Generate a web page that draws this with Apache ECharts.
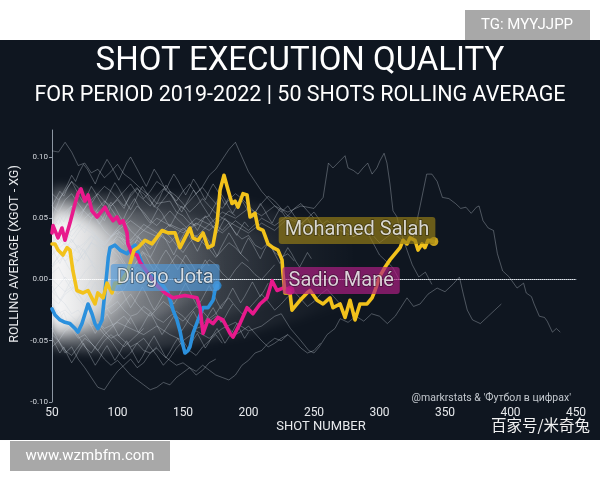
<!DOCTYPE html>
<html><head><meta charset="utf-8">
<script src="https://cdn.jsdelivr.net/npm/echarts@6/dist/echarts.min.js"></script>
<style>html,body{margin:0;padding:0;background:#fff}#c{width:600px;height:480px}</style>
</head><body><div id="c"></div>
<script>
// ---------------- data ----------------
const xTicks = [50, 100, 150, 200, 250, 300, 350, 400, 450];
const yTicks = [-0.10, -0.05, 0.00, 0.05, 0.10];

// highlighted players: [shot number, 50-shot rolling average of xGOT - xG]
const salah = [[50,.029],[52.3,.029],[54.6,.024],[58.4,.020],[61.5,.026],[63.7,.024],[66,.007],[69,-.009],[73.7,-.011],[77.5,-.009],[82.8,-.020],[85,-.011],[89,-.015],[92,-.003],[95.8,-.011],[98,-.003],[101.9,-.003],[108,.007],[112.6,.024],[115.7,.026],[121,.032],[126.3,.029],[134,.040],[138.6,.038],[143.9,.038],[147.7,.026],[151.5,.034],[155.3,.042],[157.6,.034],[161.5,.032],[165.3,.038],[169.1,.026],[172.9,.028],[176,.046],[178.3,.073],[181.3,.085],[184.4,.073],[187.4,.062],[189.7,.064],[192,.059],[195.8,.070],[198.9,.069],[201.2,.051],[205,.054],[207.3,.042],[211.1,.040],[214.9,.029],[218.7,.026],[222.5,.024],[225.6,.016],[226.3,.005],[227.9,-.011],[231.7,-.011],[233.2,-.025],[239.3,-.017],[244.7,-.011],[247,-.009],[252.3,-.017],[256.9,-.020],[262.2,-.015],[264.5,-.023],[269.9,-.020],[273.7,-.031],[277.5,-.017],[281.3,-.033],[285.1,-.020],[290.5,-.020],[294.3,-.015],[296.6,-.009],[300.4,.003],[304.2,.010],[308,.016],[315.7,.026],[318,.032],[321,.029],[323.3,.034],[327.1,.032],[329.4,.024],[332.5,.029],[334.7,.026],[337,.032],[341.5,.031]];
const mane = [[50,.038],[50.8,.044],[54.6,.034],[57.6,.042],[59.9,.032],[63.7,.046],[67.6,.062],[69.8,.070],[72.1,.074],[75.2,.064],[77.5,.069],[80.5,.056],[84.4,.051],[88.2,.056],[90.5,.059],[92.8,.054],[96.6,.048],[99.6,.051],[101.9,.046],[104.2,.048],[107.3,.038],[108,.029],[111.1,.021],[114.9,.020],[117.2,.014],[124.8,.003],[130.2,-.005],[136.3,-.011],[142.4,-.015],[151.5,-.013],[160.7,-.015],[163,-.023],[165.3,-.044],[169.1,-.033],[172.9,-.036],[176.7,-.031],[180.5,-.033],[185.9,-.044],[188.2,-.047],[193.5,-.036],[198.9,-.023],[203.4,-.028],[208.8,-.020],[214.1,-.015],[218,-.001],[221.8,-.009],[226.3,-.007],[231.7,-.009]];
const jota = [[50,-.024],[52.3,-.029],[56.1,-.033],[59.9,-.035],[63.7,-.036],[67.6,-.040],[69.8,-.043],[72.9,-.036],[75.2,-.028],[77.5,-.020],[80.5,-.028],[82.8,-.036],[85.1,-.040],[88.2,-.033],[90.5,-.009],[92,.007],[93,.018],[94.3,.026],[98.1,.028],[101.9,.024],[107.3,.021],[111.1,.026],[113.4,.028],[114.9,.024],[121,.007],[128.6,.003],[134.7,-.005],[138.6,-.011],[142.4,-.025],[145.4,-.033],[147.7,-.042],[149.2,-.050],[151.5,-.060],[153.8,-.058],[155.3,-.055],[157.6,-.044],[161.5,-.033],[165.3,-.023],[169.1,-.023],[172.9,-.017],[174.4,-.009],[176,-.005]];

// other players, values every 5 shots starting at shot 50
const greyStart = 50, greyStep = 5;
const greyA = [.105,.104,.112,.104,.093,.095,.087,.090,.083,.088,.094,.086,.082,.077,.072,.068,.062,.063,.064,.055,.052,.046,.044,.050,.052,.045,.040,.046,.038,.033,.036,.028,.025,.030,.022,.018,.021,.015];
const greyB = [.030,.035,.028,.040,.045,.038,.050,.055,.048,.060,.065,.058,.070,.075,.066,.072,.080,.076,.070,.064,.072,.078,.070,.076,.085,.090,.098,.106,.112,.100,.088,.080,.072,.066,.060,.055,.060,.052,.045,.050,.040,.035];
const grey01 = [.012,.018,.025,.020,.015,.022,.030,.026,.018,.012,.016];
const grey02 = [-.010,-.005,.002,-.004,-.012,-.008,.000,.006,.002,-.006];
const grey03 = [.045,.050,.040,.035,.042,.050,.055,.048,.040,.035,.038,.030,.025,.032,.028];
const grey04 = [-.030,-.025,-.035,-.040,-.032,-.026,-.030,-.038,-.045,-.040,-.034,-.030,-.036];
const grey05 = [.005,.010,.000,-.008,-.002,.006,.012,.008,.000,-.006,-.012,-.008,.002,.010,.006,.000,-.005,.003,.008];
const grey06 = [.060,.055,.065,.070,.062,.055,.050,.058,.064,.058,.050,.045,.052,.060,.055,.048,.044,.050,.056,.050,.045,.040,.046];
const grey07 = [-.045,-.050,-.042,-.038,-.046,-.055,-.060,-.052,-.045,-.050,-.058,-.065,-.060,-.052,-.048,-.055,-.062,-.070,-.064,-.056,-.050,-.058,-.062,-.055,-.050,-.045,-.052];
const grey08 = [.020,.028,.035,.030,.038,.045,.040,.034,.028,.035,.042,.048,.040,.035,.030,.025,.032,.040,.035,.028,.022,.030,.036,.030,.025,.018,.024,.030,.026,.020,.015];
const grey09 = [-.040,-.050,-.060,-.055,-.065,-.072,-.080,-.088,-.090,-.082,-.075,-.070,-.065,-.072,-.068,-.060,-.055];
const grey10 = [-.020,-.028,-.035,-.040,-.048,-.045,-.052,-.058,-.065,-.070,-.066,-.072,-.078,-.082,-.086,-.090,-.088,-.084,-.086,-.080,-.076,-.072,-.078,-.074,-.068,-.065];
const grey11 = [-.010,-.015,-.020,-.028,-.025,-.032,-.038,-.035,-.042,-.048,-.045,-.050,-.055,-.052,-.058,-.060,-.056,-.062,-.066,-.070,-.068,-.072,-.075,-.070,-.074,-.078,-.080,-.082,-.078,-.070,-.066,-.060,-.058,-.052,-.048,-.050,-.045];
const grey12 = [.000,-.005,-.010,-.006,-.012,-.018,-.015,-.020,-.025,-.022,-.018,-.025,-.030,-.028,-.022,-.026,-.032,-.035,-.030,-.026,-.030,-.036,-.040,-.038,-.034,-.030,-.035,-.040,-.045,-.042,-.038,-.044,-.050,-.055,-.052,-.048,-.045,-.050,-.056,-.060,-.058,-.052];
const grey13 = [.050,.045,.055,.060,.052,.058,.065,.070,.064,.060,.066,.072,.078,.070,.065,.060,.068,.074,.070,.062,.058,.064,.070,.075,.068,.062,.058,.065,.070,.066,.060,.055,.062,.068,.064,.058,.052,.058,.062,.056,.050];
const grey14 = [.030,.022,.015,.020,.028,.022,.015,.010,.018,.025,.020,.012,.008,.015,.022,.018,.010,.005,.012,.020,.015,.008,.002,.010,.016,.012,.005,.000,.008,.014,.010,.004,.000,.006,.012];
const grey15 = [-.015,-.020,-.012,-.008,-.016,-.022,-.018,-.012,-.020,-.028,-.024,-.018,-.012,-.020,-.026,-.030,-.024,-.018,-.022,-.030,-.034,-.028,-.022,-.026,-.032,-.028,-.020,-.015,-.022,-.028,-.024,-.018,-.012,-.018,-.025,-.020,-.014,-.010,-.016,-.022,-.018,-.012,-.008,-.014,-.020];
const grey16 = [.070,.065,.072,.080,.075,.068,.062,.070,.076,.072,.066,.060,.068,.074,.070,.064,.058,.065,.072,.068,.062,.055,.060,.066,.060,.054,.050,.056,.052];
const grey17 = [-.055,-.050,-.058,-.062,-.055,-.048,-.052,-.058,-.050,-.045,-.050,-.055,-.050,-.045,-.040];
const grey18 = [.035,.030,.038,.032,.026,.030,.036,.030,.024,.028,.033,.028];

// other players read at a finer step: every 3 shots from shot 50
const fineStart = 50, fineStep = 3;
const grey19 = [.040,.046,.052,.047,.055,.060,.054,.049,.056,.062,.058,.051,.045,.050,.057,.063,.059,.053,.048,.055,.061,.066,.060,.055,.050,.046,.052,.058,.054,.048,.043,.049,.055,.060,.056,.050,.045,.040,.046,.052,.048,.043,.038,.044,.050,.046,.041,.036,.042,.047,.043];
const grey20 = [-.020,-.026,-.032,-.027,-.035,-.041,-.036,-.030,-.025,-.031,-.038,-.044,-.039,-.033,-.028,-.034,-.040,-.046,-.042,-.036,-.031,-.037,-.043,-.038,-.032,-.027,-.033,-.039,-.045,-.040,-.035,-.030,-.036,-.042,-.037,-.031,-.026,-.032,-.038,-.034,-.028,-.023,-.029,-.035,-.031,-.025,-.020];
const grey21 = [.010,.016,.022,.017,.011,.006,.012,.019,.025,.020,.014,.008,.003,.009,.015,.021,.027,.022,.016,.011,.005,.011,.017,.023,.018,.012,.007,.013,.019,.024,.019,.013,.008,.014,.020,.015,.010,.004,.010,.016,.011];
const grey22 = [.060,.066,.072,.068,.075,.080,.074,.068,.063,.069,.076,.071,.065,.060,.066,.073,.079,.074,.068,.062,.057,.063,.070,.076,.071,.065,.059,.064,.071,.077,.072,.066,.060,.055,.061,.067,.073,.068,.062,.057,.052,.058,.064,.070,.065,.059,.054,.060,.066,.061,.055,.050,.056,.062,.057,.051,.046,.052,.058,.053,.048];
const grey23 = [-.048,-.054,-.060,-.055,-.062,-.068,-.063,-.057,-.052,-.058,-.064,-.070,-.065,-.059,-.054,-.060,-.066,-.061,-.055,-.050,-.056,-.062,-.068,-.063,-.057,-.051,-.046,-.052,-.058,-.064,-.059,-.053,-.048,-.054,-.060,-.055,-.049,-.044,-.050,-.056,-.051,-.045,-.040,-.046,-.052,-.047,-.042,-.036,-.042,-.048,-.043];
const grey24 = [.025,.019,.013,.020,.027,.033,.028,.022,.016,.023,.030,.036,.031,.025,.019,.026,.033,.039,.034,.028,.022,.029,.035,.030,.024,.018,.024,.031,.037,.032,.026,.020,.027,.034,.040,.035,.029,.023,.030,.036,.031,.025,.019,.026,.032,.038,.033,.027,.021,.028,.034,.029,.023,.017,.024,.030,.025,.019,.013,.020,.026,.021,.015,.010,.016,.022,.017];
const grey25 = [-.005,-.011,-.017,-.012,-.006,.000,-.006,-.013,-.019,-.014,-.008,-.002,-.008,-.015,-.021,-.016,-.010,-.004,-.010,-.017,-.023,-.018,-.012,-.006,-.012,-.019,-.025,-.020,-.014,-.008,-.014,-.020,-.015,-.009,-.003,-.009,-.016,-.022,-.017,-.011,-.005,-.011,-.018,-.024,-.019,-.013,-.007,-.013,-.019,-.014,-.008,-.002,-.008,-.014,-.009,-.003];
const grey26 = [.050,.058,.066,.072,.078,.085,.080,.088,.094,.090,.084,.078,.086,.092,.098,.093,.087,.081,.088,.095,.100,.094,.088,.082,.076,.083,.090,.085,.079,.073,.080,.086,.081,.075,.069,.075,.082,.077,.071,.065,.072,.078,.073,.067,.061,.067];

// long careers, as [shot, value]
const greyC = [[50,.010],[60,.020],[70,.015],[80,.030],[90,.025],[100,.035],[110,.030],[120,.040],[130,.035],[140,.045],[150,.040],[160,.050],[170,.045],[180,.055],[190,.050],[200,.058],[210,.052],[220,.060],[230,.055],[240,.060],[250,.058],[257,.067],[261,.095],[264.5,.091],[270,.097],[273.7,.101],[276,.091],[280,.089],[283.6,.086],[287.4,.091],[291,.095],[294.3,.086],[298,.091],[300.4,.097],[303.5,.103],[305.7,.095],[308,.078],[310.3,.056],[313.4,.051],[315.7,.040],[321,.024],[325,.012],[330,.002],[335,.006],[340,-.004]];
const greyD = [[50,.020],[60,.030],[70,.022],[80,.035],[90,.028],[100,.040],[110,.032],[120,.045],[130,.038],[140,.030],[150,.042],[160,.035],[170,.045],[180,.038],[190,.048],[200,.040],[210,.050],[220,.044],[230,.052],[240,.046],[250,.040],[260,.048],[270,.040],[280,.035],[290,.042],[300,.030],[310,.038],[320,.030],[326,.035],[331,.060],[336,.086],[340,.086],[344,.080],[348,.067],[353,.066],[358,.062],[362,.058],[366,.059],[370,.054],[374,.059],[376,.060],[379,.048],[383,.042],[387,.040],[390,.021],[394,.007],[399,.002],[405,-.007],[410,-.003],[412,-.011],[416,-.014],[418,-.020],[422,-.030],[426,-.031],[428,-.034],[432,-.043],[435,-.040],[438,-.043]];
const greyE = [[50,-.030],[60,-.025],[70,-.035],[80,-.030],[90,-.040],[100,-.035],[110,-.040],[120,-.045],[130,-.038],[140,-.045],[150,-.050],[160,-.042],[170,-.048],[180,-.040],[190,-.035],[200,-.042],[210,-.038],[220,-.030],[225,-.028],[232,-.040],[240,-.050],[246,-.058],[250,-.060],[254,-.055],[260,-.045],[266,-.040],[270,-.032],[276,-.035],[282,-.030],[288,-.034],[294,-.028],[300,-.030],[306,-.036],[312,-.030],[318,-.020],[321,-.015],[326,-.022],[331,-.020],[337,-.012],[344,-.007],[350,-.010],[356,-.004],[361,.002],[364,-.012],[367,-.025],[371,-.033],[377,-.036],[383,-.030],[388,-.025],[393,-.020]];
const greyF = [[50,.040],[60,.035],[70,.045],[80,.038],[90,.030],[100,.040],[110,.048],[120,.040],[130,.050],[140,.044],[150,.038],[160,.046],[170,.040],[180,.050],[190,.044],[200,.038],[210,.046],[220,.040],[230,.050],[240,.045],[250,.055],[260,.040],[270,.048],[280,.035],[290,.040],[300,.020],[310,.010],[315,.000]];

// density of the crowd of other players: shots, upper edge, lower edge
const band1Shots = [50,60,75,90,105,120,140,160,180,200,220,240,260,280];
const band1Hi = [.074,.076,.072,.070,.070,.068,.068,.068,.066,.062,.056,.048,.040,.030];
const band1Lo = [-.056,-.058,-.060,-.060,-.058,-.058,-.055,-.052,-.048,-.044,-.038,-.032,-.025,-.018];
const band2Shots = [50,60,75,90,105,120,140,160,180,200,230];
const band2Hi = [.066,.068,.064,.060,.058,.056,.054,.050,.046,.040,.028];
const band2Lo = [-.050,-.052,-.052,-.050,-.048,-.046,-.042,-.036,-.030,-.024,-.010];
const band3Shots = [50,60,75,90,105,120,140,160,180];
const band3Hi = [.060,.062,.058,.054,.048,.044,.038,.030,.020];
const band3Lo = [-.044,-.046,-.044,-.042,-.038,-.034,-.026,-.016,-.006];
const band4Shots = [50,60,70,80,90,100,110,125];
const band4Hi = [.054,.056,.054,.050,.045,.040,.032,.020];
const band4Lo = [-.040,-.042,-.040,-.036,-.032,-.026,-.018,-.004];
const band5Shots = [50,60,70,80,90,100];
const band5Hi = [.046,.050,.048,.044,.038,.028];
const band5Lo = [-.033,-.035,-.033,-.029,-.023,-.013];

// ---------------- chart ----------------
const C_SALAH = '#f2c21b', C_MANE = '#e8198c', C_JOTA = '#2b90dd';
const FONT = 'Roboto';
const chart = echarts.init(document.getElementById('c'), null, {renderer: 'canvas'});

const stepLines = [greyA, greyB, grey01, grey02, grey03, grey04, grey05, grey06, grey07, grey08, grey09, grey10, grey11, grey12, grey13, grey14, grey15, grey16, grey17, grey18];
const fineLines = [grey19, grey20, grey21, grey22, grey23, grey24, grey25, grey26];
const pairLines = [greyC, greyD, greyE, greyF];
const greySeries = [];
stepLines.forEach(arr => greySeries.push(arr.map((v, i) => [greyStart + i * greyStep, v])));
fineLines.forEach(arr => greySeries.push(arr.map((v, i) => [fineStart + i * fineStep, v])));
pairLines.forEach(arr => greySeries.push(arr));

const bands = [
  {shots: band1Shots, hi: band1Hi, lo: band1Lo, a0: 0.22, a1: 0.0},
  {shots: band2Shots, hi: band2Hi, lo: band2Lo, a0: 0.28, a1: 0.0},
  {shots: band3Shots, hi: band3Hi, lo: band3Lo, a0: 0.42, a1: 0.0},
  {shots: band4Shots, hi: band4Hi, lo: band4Lo, a0: 0.60, a1: 0.05},
  {shots: band5Shots, hi: band5Hi, lo: band5Lo, a0: 0.80, a1: 0.20}
];

// the crowd is drawn as a soft (blurred) shape: the polygon itself sits off-canvas
// and only its blurred shadow, shifted back onto the grid, is visible
const SHIFT = 3000;
const series = [];
series.push({
  type: 'custom', silent: true, z: 1, clip: true,
  data: bands.map((b, i) => [b.shots[0], 0, i]),
  encode: {x: 0, y: 1},
  renderItem: function (params, api) {
    const b = bands[api.value(2)];
    const top = b.shots.map((s, i) => api.coord([s, b.hi[i]]));
    const bot = b.shots.map((s, i) => api.coord([s, b.lo[i]])).reverse();
    const pts = top.concat(bot).map(p => [p[0] - SHIFT, p[1]]);
    return {
      type: 'polygon',
      shape: {points: pts, smooth: 0.3},
      style: {
        fill: new echarts.graphic.LinearGradient(0, 0, 1, 0, [
          {offset: 0, color: 'rgba(255,255,255,' + b.a0 + ')'},
          {offset: 0.55, color: 'rgba(255,255,255,' + (b.a0 * 0.45 + b.a1 * 0.55) + ')'},
          {offset: 1, color: 'rgba(255,255,255,' + b.a1 + ')'}
        ]),
        shadowColor: 'rgba(255,255,255,1)', shadowBlur: 9, shadowOffsetX: SHIFT, shadowOffsetY: 0
      }
    };
  }
});
greySeries.forEach(d => series.push({
  type: 'line', data: d, showSymbol: false, silent: true, z: 2,
  lineStyle: {width: 0.8, color: 'rgba(205,212,222,0.42)'}
}));
series.push({
  type: 'line', data: [], silent: true, z: 2,
  markLine: {silent: true, symbol: 'none', label: {show: false},
    lineStyle: {type: 'dotted', color: 'rgba(255,255,255,0.75)', width: 1},
    data: [{yAxis: 0}]}
});
[[jota, C_JOTA], [mane, C_MANE], [salah, C_SALAH]].forEach(([d, c]) => series.push({
  type: 'line', data: d, showSymbol: false, silent: true, z: 5,
  lineStyle: {width: 3.6, color: c, join: 'round', cap: 'round'}
}));

function endLabel(d, name, color, box, pos, off) {
  return {
    value: d[d.length - 1], name: name,
    itemStyle: {color: color},
    label: {show: true, formatter: name, position: pos, distance: 0, offset: off,
      color: '#fff', fontFamily: FONT, fontSize: 20, backgroundColor: box,
      padding: [4, 6, 3, 6], borderRadius: 3,
      textBorderColor: 'rgba(0,0,0,0.55)', textBorderWidth: 1.5}
  };
}
series.push({
  type: 'scatter', z: 10, silent: true, symbolSize: 9,
  data: [
    endLabel(jota, 'Diogo Jota', C_JOTA, 'rgba(80,155,222,0.80)', 'left', [7, -8]),
    endLabel(mane, 'Sadio Mané', C_MANE, 'rgba(176,30,132,0.85)', 'right', [-12, -10]),
    endLabel(salah, 'Mohamed Salah', C_SALAH, 'rgba(150,125,22,0.85)', 'left', [6, -11])
  ]
});

const option = {
  backgroundColor: '#ffffff',
  animation: false,
  grid: {left: 52, right: 24, top: 130, bottom: 78},
  xAxis: {
    type: 'value', min: xTicks[0], max: xTicks[xTicks.length - 1], interval: 50,
    axisLine: {lineStyle: {color: '#8c96a2', width: 1}},
    axisTick: {show: false}, splitLine: {show: false},
    axisLabel: {color: '#e6e8eb', fontSize: 12, fontFamily: FONT, margin: 5}
  },
  yAxis: {
    type: 'value', min: yTicks[0], max: 0.122, interval: 0.05,
    axisLine: {show: true, lineStyle: {color: '#8c96a2', width: 1}},
    axisTick: {show: true, length: 3, lineStyle: {color: '#8c96a2'}},
    splitLine: {show: false},
    axisLabel: {color: '#d3d7dc', fontSize: 8, fontFamily: FONT, margin: 4, showMaxLabel: false,
      formatter: v => yTicks.some(t => Math.abs(t - v) < 1e-9) ? v.toFixed(2) : ''}
  },
  graphic: [
    {type: 'rect', z: -10, silent: true, shape: {x: 0, y: 40, width: 600, height: 400}, style: {fill: '#0f1620'}},
    {type: 'text', z: 50, x: 300, y: 62, style: {text: 'SHOT EXECUTION QUALITY', fill: '#ffffff', font: '33px Roboto', textAlign: 'center', textVerticalAlign: 'middle'}},
    {type: 'text', z: 50, x: 300, y: 96, style: {text: 'FOR PERIOD 2019-2022 | 50 SHOTS ROLLING AVERAGE', fill: '#ffffff', font: '21.5px Roboto', textAlign: 'center', textVerticalAlign: 'middle'}},
    {type: 'text', z: 50, x: 15, y: 254, rotation: Math.PI / 2, style: {text: 'ROLLING AVERAGE (XGOT - XG)', fill: '#e8eaed', font: '12.5px Roboto', textAlign: 'center', textVerticalAlign: 'middle'}},
    {type: 'text', z: 50, x: 321, y: 427, style: {text: 'SHOT NUMBER', fill: '#e8eaed', font: '13px Roboto', textAlign: 'center', textVerticalAlign: 'middle'}},
    {type: 'text', z: 50, x: 571, y: 398, style: {text: "@markrstats & 'Футбол в цифрах'", fill: '#c3c8ce', font: '10.5px Roboto', textAlign: 'right', textVerticalAlign: 'middle'}},
    {type: 'text', z: 50, x: 590, y: 425, style: {text: '百家号/米奇兔', fill: '#f2f2f2', font: '15.5px "Noto Sans CJK SC"', textAlign: 'right', textVerticalAlign: 'middle'}},
    {type: 'rect', z: 50, silent: true, shape: {x: 465, y: 10, width: 125, height: 30}, style: {fill: '#a8a8a8'}},
    {type: 'text', z: 51, x: 527, y: 25, style: {text: 'TG: MYYJJPP', fill: '#ffffff', font: '15px Roboto', textAlign: 'center', textVerticalAlign: 'middle'}},
    {type: 'rect', z: 50, silent: true, shape: {x: 10, y: 441, width: 160, height: 30}, style: {fill: '#a8a8a8'}},
    {type: 'text', z: 51, x: 90, y: 456, style: {text: 'www.wzmbfm.com', fill: '#ffffff', font: '15px Roboto', textAlign: 'center', textVerticalAlign: 'middle'}}
  ],
  series: series
};
chart.setOption(option);
</script></body></html>
